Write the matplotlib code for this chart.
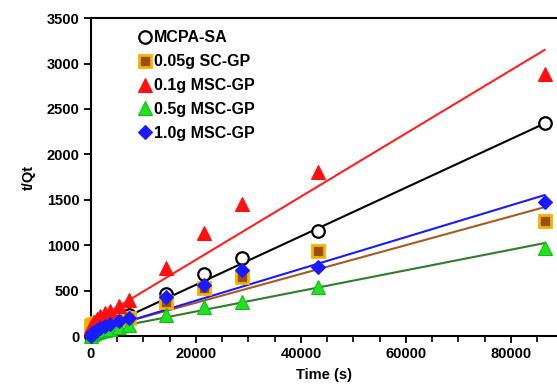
import numpy as np
import matplotlib.pyplot as plt

plt.rcParams['font.family'] = ['Liberation Sans', 'DejaVu Sans']
plt.rcParams['font.weight'] = 'bold'

# sampling times (s)
time = [0, 300, 600, 1200, 1800, 2700, 3600, 5400, 7200, 14400, 21600, 28800, 43200, 86400]

# t/Qt values
mcpa_sa = [0, 40, 60, 90, 110, 140, 160, 200, 231, 462, 682, 858, 1160, 2340]
sc_005 = [110, 120, 130, 140, 150, 160, 170, 185, 198, 374, 528, 650, 936, 1266]
msc_01 = [100, 120, 150, 190, 220, 250, 280, 330, 396, 748, 1134, 1453, 1805, 2884]
msc_05 = [0, 20, 30, 45, 55, 65, 80, 100, 121, 231, 319, 374, 539, 968]
msc_10 = [0, 30, 50, 70, 90, 110, 130, 170, 200, 429, 561, 726, 760, 1475]

# linear fits drawn in the chart: slope, intercept
fit_slope = [0.02674, 0.01585, 0.03480, 0.01134, 0.01750]
fit_intercept = [30, 50, 143, 44, 40]

labels = ['MCPA-SA', '0.05g SC-GP', '0.1g MSC-GP', '0.5g MSC-GP', '1.0g MSC-GP']
series = [mcpa_sa, sc_005, msc_01, msc_05, msc_10]
line_colors = ['black', '#A85A1E', '#FF2020', '#2E7D2A', '#1A1AFF']
markers = ['o', 's', '^', '^', 'D']
faces = ['white', '#9A4E12', '#FF1010', '#22E022', '#1A1AFF']
edges = ['black', '#F5B000', '#FF1010', '#10C010', '#1A1AFF']
msizes = [9, 8, 10, 10, 7.5]
medges = [1.6, 2.0, 0.8, 0.8, 0.8]

fig = plt.figure(figsize=(5.57, 3.85), dpi=100)
ax = fig.add_axes([0.163, 0.127, 0.837, 0.826])

t = np.array(time, dtype=float)
xfit = np.array([0, 86400])
for i in range(len(series)):
    ax.plot(xfit, fit_slope[i] * xfit + fit_intercept[i], color=line_colors[i], lw=1.5, zorder=2)
for i in range(len(series)):
    ax.plot(t, series[i], linestyle='none', marker=markers[i], markersize=msizes[i],
            markerfacecolor=faces[i], markeredgecolor=edges[i], markeredgewidth=medges[i],
            label=labels[i], zorder=3, clip_on=False)

ax.set_xlim(0, 88760)
ax.set_ylim(0, 3500)
ax.set_xticks([0, 20000, 40000, 60000, 80000])
ax.set_xticks(np.arange(0, 88000, 5000), minor=True)
ax.set_yticks(np.arange(0, 3501, 500))
ax.spines['right'].set_visible(False)
for s in ['left', 'bottom', 'top']:
    ax.spines[s].set_linewidth(1.5)
ax.tick_params(axis='both', which='major', direction='out', length=5, width=1.3,
               labelsize=10.5, pad=3)
ax.tick_params(axis='x', which='minor', direction='out', length=4, width=1.2)
ax.tick_params(axis='y', which='minor', left=False)
for lab in ax.get_xticklabels() + ax.get_yticklabels():
    lab.set_fontweight('bold')

ax.set_xlabel('Time (s)', fontsize=10.5, fontweight='bold', labelpad=5)
ax.set_ylabel('t/Qt', fontsize=10.5, fontweight='bold', labelpad=8)

ax.legend(loc='upper left', bbox_to_anchor=(0.073, 0.997), frameon=False,
          handletextpad=0.05, handlelength=1.1, labelspacing=0.56,
          prop={'weight': 'bold', 'size': 11.5}, borderaxespad=0.3)

fig.savefig('out.png', dpi=100)
